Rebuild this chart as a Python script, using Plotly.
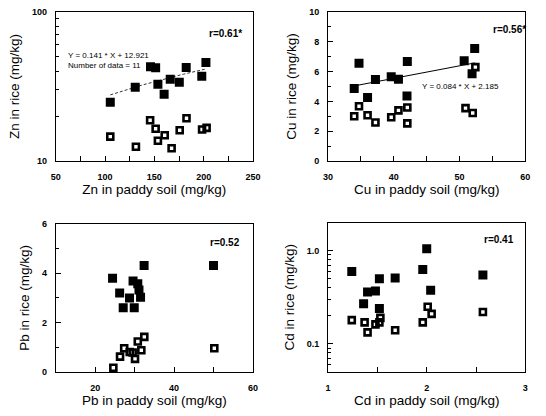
import numpy as np
import plotly.graph_objects as go

# ---------------- data ----------------
zn_soil_f = [105.3, 130.6, 146.1, 151.3, 153.6, 159.9, 166.1, 175.3, 182.3, 198.1, 202.3]
zn_rice_f = [24.8, 31.2, 42.8, 42.2, 32.7, 28.1, 35.4, 33.8, 42.4, 37.0, 45.7]
zn_soil_o = [105.3, 131.3, 145.7, 151.3, 153.6, 160.5, 167.5, 175.7, 182.6, 198.4, 203.0]
zn_rice_o = [14.6, 12.5, 18.8, 16.5, 13.7, 14.9, 12.2, 16.1, 19.4, 16.3, 16.7]
zn_fit = (0.141, 12.921)

cu_soil_f = [33.97, 34.7, 36.0, 37.2, 39.6, 40.7, 42.05, 42.0, 50.7, 52.3, 51.9]
cu_rice_f = [4.86, 6.56, 4.27, 5.47, 5.66, 5.49, 6.67, 4.36, 6.73, 7.54, 5.86]
cu_soil_o = [33.97, 34.7, 36.0, 37.2, 39.6, 40.7, 42.05, 42.05, 50.9, 52.0, 52.4]
cu_rice_o = [3.01, 3.68, 3.07, 2.59, 2.94, 3.40, 3.59, 2.53, 3.55, 3.22, 6.30]
cu_fit = (0.084, 2.185)

pb_soil_f = [24.4, 26.2, 27.1, 28.7, 29.6, 29.9, 30.8, 31.1, 31.5, 32.4, 50.0]
pb_rice_f = [3.79, 3.19, 2.60, 2.99, 3.68, 2.60, 3.57, 3.32, 3.02, 4.31, 4.31]
pb_soil_o = [24.6, 26.3, 27.35, 28.75, 29.5, 30.1, 30.8, 31.7, 32.45, 50.2]
pb_rice_o = [0.17, 0.62, 0.96, 0.81, 0.79, 0.53, 1.23, 0.88, 1.42, 0.96]

cd_soil_f = [1.24, 1.36, 1.40, 1.48, 1.52, 1.52, 1.68, 1.96, 2.00, 2.04, 2.57]
cd_rice_f = [0.60, 0.27, 0.36, 0.37, 0.50, 0.24, 0.51, 0.63, 1.05, 0.376, 0.55]
cd_soil_o = [1.24, 1.37, 1.40, 1.48, 1.52, 1.53, 1.68, 1.96, 2.01, 2.05, 2.57]
cd_rice_o = [0.18, 0.17, 0.133, 0.162, 0.17, 0.19, 0.14, 0.17, 0.25, 0.21, 0.22]

r_labels = ["r=0.61*", "r=0.56*", "r=0.52", "r=0.41"]
x_titles = ["Zn in paddy soil (mg/kg)", "Cu in paddy soil (mg/kg)",
            "Pb in paddy soil (mg/kg)", "Cd in paddy soil (mg/kg)"]
y_titles = ["Zn in rice (mg/kg)", "Cu in rice (mg/kg)",
            "Pb in rice (mg/kg)", "Cd in rice (mg/kg)"]

# ---------------- figure ----------------
W, H = 546, 416
fig = go.Figure()

FONT = "Liberation Sans, Arial, sans-serif"
filled = dict(symbol="square", size=9, color="black")
opened = dict(symbol="square-open", size=6, color="black", line=dict(width=2.6, color="black"))


def add_pair(n, xf, yf, xo, yo):
    xa = "x" if n == 1 else f"x{n}"
    ya = "y" if n == 1 else f"y{n}"
    fig.add_trace(go.Scatter(x=xf, y=yf, mode="markers", marker=filled,
                             xaxis=xa, yaxis=ya, showlegend=False))
    fig.add_trace(go.Scatter(x=xo, y=yo, mode="markers", marker=opened,
                             xaxis=xa, yaxis=ya, showlegend=False))


add_pair(1, zn_soil_f, zn_rice_f, zn_soil_o, zn_rice_o)
add_pair(2, cu_soil_f, cu_rice_f, cu_soil_o, cu_rice_o)
add_pair(3, pb_soil_f, pb_rice_f, pb_soil_o, pb_rice_o)
add_pair(4, cd_soil_f, cd_rice_f, cd_soil_o, cd_rice_o)

# regression lines
zx = np.linspace(min(zn_soil_f), max(zn_soil_f), 60)
fig.add_trace(go.Scatter(x=zx, y=zn_fit[0] * zx + zn_fit[1], mode="lines",
                         line=dict(color="black", width=0.8, dash="3px,2px"),
                         xaxis="x", yaxis="y", showlegend=False))
cx = np.linspace(min(cu_soil_f), max(cu_soil_f), 60)
fig.add_trace(go.Scatter(x=cx, y=cu_fit[0] * cx + cu_fit[1], mode="lines",
                         line=dict(color="black", width=1),
                         xaxis="x2", yaxis="y2", showlegend=False))


def px_dom_x(a, b):
    return [a / W, b / W]


def px_dom_y(top, bot):
    return [1 - bot / H, 1 - top / H]


tickfont = dict(family=FONT, size=9, color="black", weight="bold")
titlefont = dict(family=FONT, size=13.5, color="black")


def axis_common(title, standoff):
    return dict(showline=True, linecolor="black", linewidth=1, mirror=True,
                showgrid=False, zeroline=False, ticks="inside", ticklen=5,
                tickwidth=1.2, tickcolor="black", tickfont=tickfont,
                title=dict(text=title, font=titlefont, standoff=standoff))


xs = [(52, 254), (331, 533), (52, 254), (331, 533)]
ys = [(7, 160), (7, 160), (224, 376), (223, 376)]

layout = dict(width=W, height=H, margin=dict(l=0, r=0, t=0, b=0),
              paper_bgcolor="white", plot_bgcolor="white",
              font=dict(family=FONT, color="black"))

mx = dict(ticks="inside", ticklen=5, tickcolor="black", tickwidth=1.2)
my = dict(ticks="inside", ticklen=3, tickcolor="black", tickwidth=1)

# Zn
layout["xaxis"] = dict(axis_common(x_titles[0], 2), domain=px_dom_x(*xs[0]), anchor="y",
                       range=[50, 250], tickvals=[50, 100, 150, 200, 250],
                       minor=dict(mx, tickvals=[75, 125, 175, 225]),
                       ticklabelstandoff=7)
layout["yaxis"] = dict(axis_common(y_titles[0], 9), domain=px_dom_y(*ys[0]), anchor="x",
                       type="log", range=[1, 2], tickvals=[10, 100],
                       minor=dict(my, tickvals=[20, 30, 40, 50, 60, 70, 80, 90]),
                       ticklabelstandoff=6)
# Cu
layout["xaxis2"] = dict(axis_common(x_titles[1], 2), domain=px_dom_x(*xs[1]), anchor="y2",
                        range=[30, 60], tickvals=[30, 40, 50, 60],
                        minor=dict(mx, tickvals=[35, 45, 55]),
                        ticklabelstandoff=7)
layout["yaxis2"] = dict(axis_common(y_titles[1], 9), domain=px_dom_y(*ys[1]), anchor="x2",
                        range=[0, 10], tickvals=[0, 2, 4, 6, 8, 10],
                        minor=dict(my, tickvals=[1, 3, 5, 7, 9]),
                        ticklabelstandoff=6)
# Pb
layout["xaxis3"] = dict(axis_common(x_titles[2], 2), domain=px_dom_x(*xs[2]), anchor="y3",
                        range=[10, 60], tickvals=[20, 40, 60],
                        minor=dict(mx, tickvals=[10, 30, 50]),
                        ticklabelstandoff=7)
layout["yaxis3"] = dict(axis_common(y_titles[2], 9), domain=px_dom_y(*ys[2]), anchor="x3",
                        range=[0, 6], tickvals=[0, 2, 4, 6],
                        minor=dict(my, tickvals=[1, 3, 5]),
                        ticklabelstandoff=6)
# Cd
layout["xaxis4"] = dict(axis_common(x_titles[3], 2), domain=px_dom_x(*xs[3]), anchor="y4",
                        range=[1, 3], tickvals=[1, 2, 3],
                        minor=dict(mx, tickvals=[1.5, 2.5]),
                        ticklabelstandoff=7)
layout["yaxis4"] = dict(axis_common(y_titles[3], 9), domain=px_dom_y(*ys[3]), anchor="x4",
                        type="log", range=[np.log10(0.05), np.log10(2.0)],
                        tickvals=[0.1, 1.0], ticktext=["0.1", "1.0"],
                        minor=dict(my, tickvals=[0.05, 0.06, 0.07, 0.08, 0.09, 0.2, 0.3, 0.4, 0.5,
                                                 0.6, 0.7, 0.8, 0.9, 2.0]),
                        ticklabelstandoff=6)

fig.update_layout(**layout)

# annotations
r_pos = [(0.767, 0.856, ""), (0.827, 0.882, "2"), (0.772, 0.875, "3"), (0.782, 0.889, "4")]
for lab, (ax, ay, s) in zip(r_labels, r_pos):
    fig.add_annotation(text=lab, xref=f"x{s} domain", yref=f"y{s} domain", x=ax, y=ay,
                       xanchor="left", yanchor="middle", showarrow=False,
                       font=dict(family=FONT, size=10, color="black", weight="bold"))

fig.add_annotation(text=f"Y = {zn_fit[0]} * X + {zn_fit[1]}<br>Number of data = {len(zn_soil_f)}",
                   xref="x domain", yref="y domain", x=0.054, y=0.673, align="left",
                   xanchor="left", yanchor="middle", showarrow=False,
                   font=dict(family=FONT, size=8, color="black"))
fig.add_annotation(text=f"Y = {cu_fit[0]} * X + {cu_fit[1]}",
                   xref="x2 domain", yref="y2 domain", x=0.465, y=0.497,
                   xanchor="left", yanchor="middle", showarrow=False,
                   font=dict(family=FONT, size=8, color="black"))

fig.write_html("out.html")
